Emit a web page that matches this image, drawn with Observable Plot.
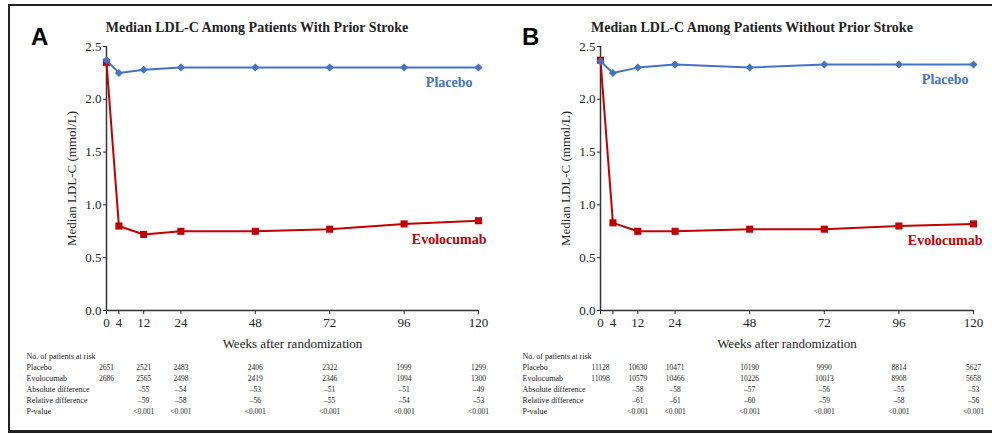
<!DOCTYPE html>
<html>
<head>
<meta charset="utf-8">
<script src="https://cdn.jsdelivr.net/npm/d3@7"></script>
<script src="https://cdn.jsdelivr.net/npm/@observablehq/plot@0.6"></script>
<style>
  body { margin: 0; background: #fff; }
  #root { position: relative; width: 992px; height: 434px; overflow: hidden; font-family: "Liberation Serif", "Times New Roman", serif; background: #fff; }
  .frame { position: absolute; left: 8px; top: 4px; width: 1000px; height: 424px; border-left: 2px solid #222; border-top: 2px solid #222; border-bottom: 3px solid #222; }
  .letter { position: absolute; font: bold 24px/24px "Liberation Sans", Arial, sans-serif; color: #000; }
  .title { position: absolute; font: bold 14px/14px "Liberation Serif", "Times New Roman", serif; color: #222; transform: translateX(-50%); white-space: nowrap; }
  .panel { position: absolute; }
  .panel svg { display: block; overflow: visible; }
</style>
</head>
<body>
<div id="root">
  <div class="frame"></div>
  <div class="letter" style="left:31px;top:25px;">A</div>
  <div class="letter" style="left:522px;top:25px;">B</div>
  <div class="title" style="left:257px;top:21px;">Median LDL-C Among Patients With Prior Stroke</div>
  <div class="title" style="left:752px;top:21px;">Median LDL-C Among Patients Without Prior Stroke</div>
  <div class="panel" id="chartA" style="left:0px;top:0px;"></div>
  <div class="panel" id="chartB" style="left:494px;top:0px;"></div>
  <div class="panel" id="tableA" style="left:0px;top:346px;"></div>
  <div class="panel" id="tableB" style="left:494px;top:346px;"></div>
</div>
<script>
// ---- data ----
const weeks = [0, 4, 12, 24, 48, 72, 96, 120];
const xTicks = [0, 4, 12, 24, 48, 72, 96, 120];
const yTicks = [0, 0.5, 1.0, 1.5, 2.0, 2.5];

const placeboA = [2.37, 2.25, 2.28, 2.30, 2.30, 2.30, 2.30, 2.30];
const evolocumabA = [2.35, 0.80, 0.72, 0.75, 0.75, 0.77, 0.82, 0.85];
const placeboB = [2.36, 2.25, 2.30, 2.33, 2.30, 2.33, 2.33, 2.33];
const evolocumabB = [2.37, 0.83, 0.75, 0.75, 0.77, 0.77, 0.80, 0.82];

const tableWeeks = [0, 12, 24, 48, 72, 96, 120];
const rowLabels = ["No. of patients at risk", "Placebo", "Evolocumab", "Absolute difference", "Relative difference", "P-value"];

const riskPlaceboA = [2651, 2521, 2483, 2406, 2322, 1999, 1299];
const riskEvolocumabA = [2686, 2565, 2498, 2419, 2346, 1994, 1300];
const absDiffA = [null, -55, -54, -53, -51, -51, -49];
const relDiffA = [null, -59, -58, -56, -55, -54, -53];
const pValueA = [null, "<0.001", "<0.001", "<0.001", "<0.001", "<0.001", "<0.001"];

const riskPlaceboB = [11128, 10630, 10471, 10190, 9990, 8814, 5627];
const riskEvolocumabB = [11098, 10579, 10466, 10226, 10013, 8908, 5658];
const absDiffB = [null, -58, -58, -57, -56, -55, -53];
const relDiffB = [null, -61, -61, -60, -59, -58, -56];
const pValueB = [null, "<0.001", "<0.001", "<0.001", "<0.001", "<0.001", "<0.001"];

const titles = {
  x: "Weeks after randomization",
  y: "Median LDL-C (mmol/L)",
  placebo: "Placebo",
  evolocumab: "Evolocumab"
};

// ---- styling ----
const BLUE = "#4472C4";
const RED = "#C00000";
const AXIS = "#333";
const W = 496;
const SERIF = "'Liberation Serif', 'Times New Roman', serif";

function series(values) {
  return weeks.map((w, i) => ({week: w, value: values[i]}));
}

function chart(placebo, evo, opts) {
  const p = series(placebo);
  const e = series(evo);
  const lastP = [p[p.length - 1]];
  const lastE = [e[e.length - 1]];
  return Plot.plot({
    width: W,
    height: 350,
    marginLeft: 106,
    marginRight: opts.marginRight,
    marginTop: 46,
    marginBottom: 40,
    style: {fontFamily: SERIF, fontSize: "13px", color: "#222", background: "transparent", overflow: "visible"},
    x: {domain: [0, 120], ticks: xTicks, tickSize: 4, tickPadding: 3, label: titles.x, labelAnchor: "center", labelOffset: 37, labelArrow: "none"},
    y: {domain: [0, 2.5], ticks: yTicks, tickFormat: d3.format(".1f"), tickSize: 3, tickPadding: 2, label: titles.y, labelAnchor: "center", labelOffset: 40, labelArrow: "none"},
    marks: [
      Plot.ruleX([0], {y1: 0, y2: 2.5, stroke: AXIS, strokeWidth: 1.5}),
      Plot.ruleY([0], {x1: 0, x2: 120, stroke: AXIS, strokeWidth: 1.5}),
      Plot.line(e, {x: "week", y: "value", stroke: RED, strokeWidth: 2}),
      Plot.dot(e, {x: "week", y: "value", symbol: "square", fill: RED, r: 4}),
      Plot.line(p, {x: "week", y: "value", stroke: BLUE, strokeWidth: 2}),
      Plot.dot(p, {x: "week", y: "value", symbol: "diamond2", fill: BLUE, r: 3.6}),
      Plot.text(lastP, {x: "week", y: "value", text: () => titles.placebo, textAnchor: "end", dx: opts.pdx, dy: opts.pdy, fill: BLUE, fontWeight: "bold", fontSize: 14}),
      Plot.text(lastE, {x: "week", y: "value", text: () => titles.evolocumab, textAnchor: "end", dx: opts.edx, dy: opts.edy, fill: RED, fontWeight: "bold", fontSize: 14})
    ]
  });
}

function fmt(v) {
  if (v == null) return "";
  if (typeof v === "string") return v;
  return v < 0 ? "\u2013" + Math.abs(v) : String(v);
}

function table(rows, opts) {
  const cells = [];
  const rowData = [
    ["Placebo", rows.placebo],
    ["Evolocumab", rows.evo],
    ["Absolute difference", rows.abs],
    ["Relative difference", rows.rel],
    ["P-value", rows.p]
  ];
  for (const [name, vals] of rowData) {
    tableWeeks.forEach((w, i) => {
      const t = fmt(vals[i]);
      if (t) cells.push({week: w, row: name, text: t});
    });
  }
  return Plot.plot({
    width: W,
    height: 72,
    marginLeft: 106,
    marginRight: opts.marginRight,
    marginTop: 8,
    marginBottom: 6,
    style: {fontFamily: SERIF, fontSize: "8px", color: "#222", background: "transparent", overflow: "visible"},
    x: {domain: [0, 120], axis: null},
    y: {type: "point", domain: rowLabels, padding: 0, axis: null},
    marks: [
      Plot.text(rowLabels, {y: d => d, text: d => d, frameAnchor: "left", textAnchor: "start", dx: opts.labelDx, fontSize: 8, fill: "#222"}),
      Plot.text(cells, {x: "week", y: "row", text: "text", fontSize: 7.5, fill: "#222"})
    ]
  });
}

document.getElementById("chartA").append(chart(placeboA, evolocumabA, {marginRight: 18, pdx: -6, pdy: 15, edx: 8, edy: 19}));
document.getElementById("chartB").append(chart(placeboB, evolocumabB, {marginRight: 17, pdx: -5, pdy: 15, edx: 9, edy: 17}));
document.getElementById("tableA").append(table({placebo: riskPlaceboA, evo: riskEvolocumabA, abs: absDiffA, rel: relDiffA, p: pValueA}, {marginRight: 18, labelDx: -80}));
document.getElementById("tableB").append(table({placebo: riskPlaceboB, evo: riskEvolocumabB, abs: absDiffB, rel: relDiffB, p: pValueB}, {marginRight: 17, labelDx: -78}));
</script>
</body>
</html>
